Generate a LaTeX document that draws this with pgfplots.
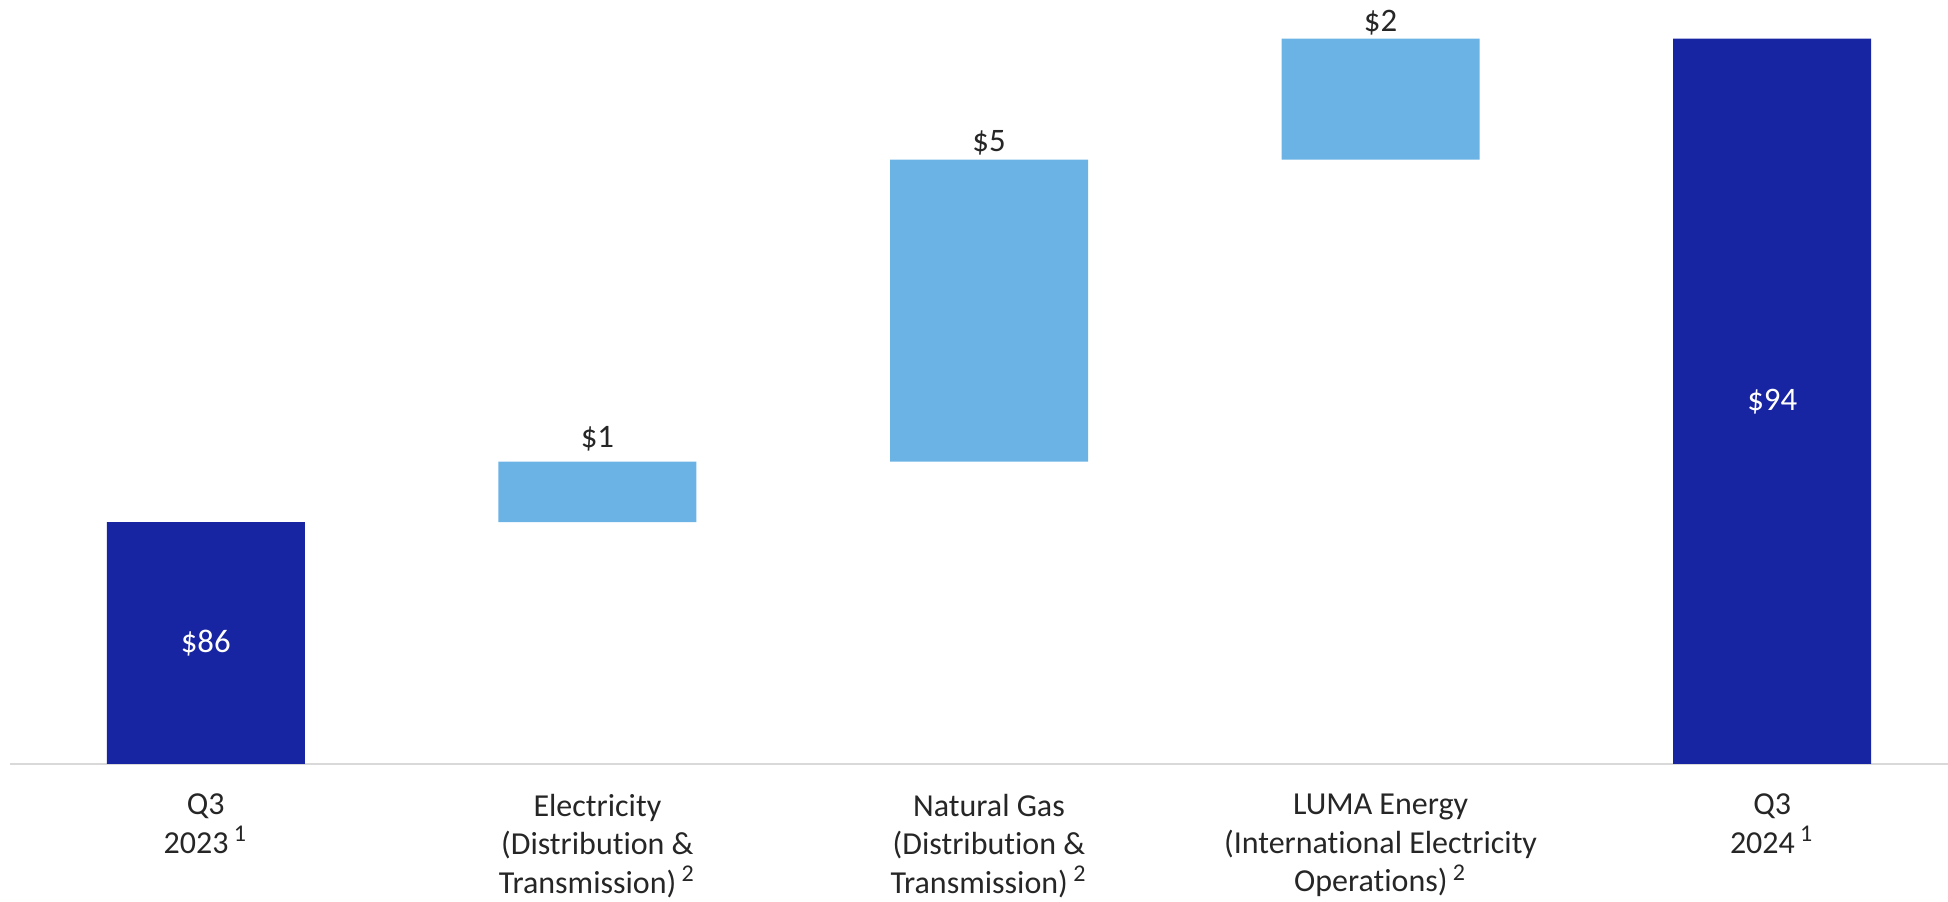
\documentclass[border=0pt]{standalone}
\usepackage{pgfplots}
\pgfplotsset{compat=1.18}
\usepackage{pgfplotstable}
\usepackage{fontspec}
\setmainfont{Carlito}[Ligatures=NoCommon]

\definecolor{darkbar}{RGB}{24,37,163}
\definecolor{lightbar}{RGB}{107,178,229}
\definecolor{axisgray}{RGB}{217,217,217}
\definecolor{labeltext}{RGB}{38,38,38}

\tikzset{value/.style={font=\fontsize{8.2}{10}\selectfont, text=labeltext}}

% Earnings bridge (in $): hidden base, totals, and changes
\pgfplotstableread{
x base total change
0 0  86 0
1 86 0  1
2 87 0  5
3 92 0  2
4 0  94 0
}\bridge

\begin{document}
\begin{tikzpicture}
\useasboundingbox (-2.5pt,-34.25pt) rectangle (484.5pt,191pt);
\begin{axis}[
  scale only axis, width=484.5pt, height=191pt,
  ybar stacked, bar width=49.5pt,
  xmin=-0.5, xmax=4.449, ymin=82, ymax=94.64,
  axis x line=bottom, axis y line=none,
  x axis line style={draw=axisgray, line width=0.6pt, -},
  xtick={0,...,4}, major tick length=0pt,
  xticklabels={
    {Q3\\2023\,\textsuperscript{1}},
    {Electricity\\(Distribution \&\\Transmission)\,\textsuperscript{2}},
    {Natural Gas\\(Distribution \&\\Transmission)\,\textsuperscript{2}},
    {LUMA Energy\\(International Electricity\\Operations)\,\textsuperscript{2}},
    {Q3\\2024\,\textsuperscript{1}}},
  xticklabel style={align=center, font=\fontsize{8}{9.6}\selectfont, text=labeltext, yshift=-4pt},
  ytick=\empty,
  % value labels go on top of the bars
  after end axis/.code={
    \node[value, text=white] at (axis cs:0,84) {\$86};
    \node[value, text=white] at (axis cs:4,88) {\$94};
    \node[value, anchor=base, yshift=3.5pt] at (axis cs:1,87) {\$1};
    \node[value, anchor=base, yshift=2pt] at (axis cs:2,92) {\$5};
    \node[value, anchor=base, yshift=1.8pt] at (axis cs:3,94) {\$2};
  },
]
\addplot[draw=none, fill=none, forget plot] table[x=x, y=base] {\bridge};
\addplot[fill=darkbar, draw=none] table[x=x, y=total] {\bridge};
\addplot[fill=lightbar, draw=none] table[x=x, y=change] {\bridge};
\end{axis}
\end{tikzpicture}
\end{document}
